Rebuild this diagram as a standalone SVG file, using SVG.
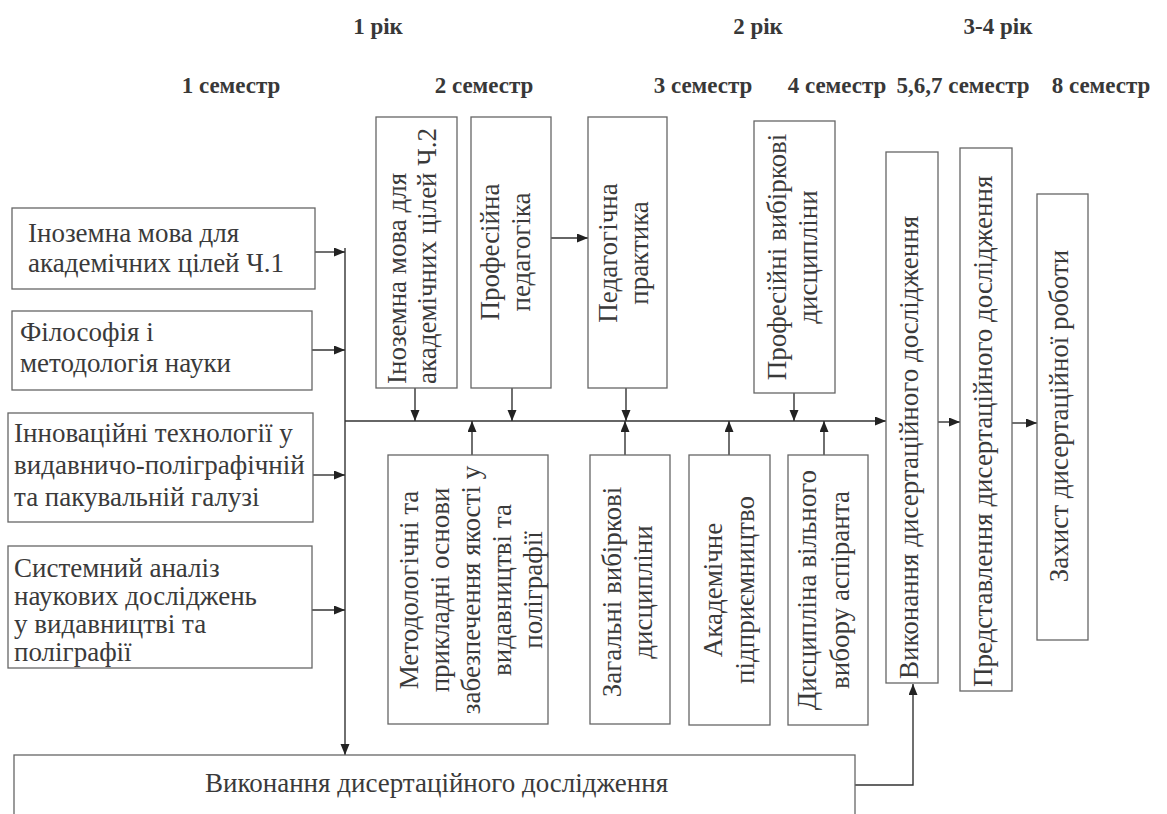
<svg xmlns="http://www.w3.org/2000/svg" width="1167" height="814" viewBox="0 0 1167 814">
<style>
.hd{font-family:"Liberation Serif","Times New Roman",serif;font-size:23px;font-weight:bold;fill:#383838;text-anchor:middle}
.t{font-family:"Liberation Serif","Times New Roman",serif;font-size:27px;fill:#3a3a3a}
.c{text-anchor:middle}
.box{fill:#fff;stroke:#666;stroke-width:1.3}
.ln{fill:none;stroke:#333;stroke-width:1.4}
</style>
<defs>
<marker id="ah" markerUnits="userSpaceOnUse" markerWidth="12" markerHeight="10" refX="11" refY="4.5" orient="auto">
<path d="M0,0 L11,4.5 L0,9 z" fill="#222"/>
</marker>
</defs>
<rect width="1167" height="814" fill="#fff"/>

<g id="headers">
<text class="hd" x="378" y="34">1 рік</text>
<text class="hd" x="758" y="34">2 рік</text>
<text class="hd" x="998" y="34">3-4 рік</text>
<text class="hd" x="231" y="93">1 семестр</text>
<text class="hd" x="484" y="93">2 семестр</text>
<text class="hd" x="703" y="93">3 семестр</text>
<text class="hd" x="837" y="93">4 семестр</text>
<text class="hd" x="963" y="93">5,6,7 семестр</text>
<text class="hd" x="1101" y="93">8 семестр</text>
</g>

<g id="connectors">
<line class="ln" x1="315" y1="252" x2="345" y2="252" marker-end="url(#ah)"/>
<line class="ln" x1="312" y1="350" x2="345" y2="350" marker-end="url(#ah)"/>
<line class="ln" x1="313" y1="475" x2="345" y2="475" marker-end="url(#ah)"/>
<line class="ln" x1="312" y1="610" x2="345" y2="610" marker-end="url(#ah)"/>
<line class="ln" x1="345" y1="248" x2="345" y2="755" marker-end="url(#ah)"/>
<line class="ln" x1="345" y1="421" x2="886" y2="421" marker-end="url(#ah)"/>
<line class="ln" x1="415" y1="388" x2="415" y2="421" marker-end="url(#ah)"/>
<line class="ln" x1="512" y1="388" x2="512" y2="421" marker-end="url(#ah)"/>
<line class="ln" x1="626" y1="388" x2="626" y2="421" marker-end="url(#ah)"/>
<line class="ln" x1="794" y1="393" x2="794" y2="421" marker-end="url(#ah)"/>
<line class="ln" x1="472" y1="455" x2="472" y2="421" marker-end="url(#ah)"/>
<line class="ln" x1="625" y1="455" x2="625" y2="421" marker-end="url(#ah)"/>
<line class="ln" x1="729" y1="455" x2="729" y2="421" marker-end="url(#ah)"/>
<line class="ln" x1="824" y1="455" x2="824" y2="421" marker-end="url(#ah)"/>
<line class="ln" x1="551" y1="238" x2="588" y2="238" marker-end="url(#ah)"/>
<line class="ln" x1="938" y1="422" x2="960" y2="422" marker-end="url(#ah)"/>
<line class="ln" x1="1012" y1="423" x2="1037" y2="423" marker-end="url(#ah)"/>
<polyline class="ln" points="855,785 913,785 913,684" marker-end="url(#ah)"/>
</g>

<g id="n-inozemna1">
<rect class="box" x="12" y="208" width="303" height="81"/>
<text class="t" x="28" y="242">Іноземна мова для</text>
<text class="t" x="28" y="272">академічних цілей Ч.1</text>
</g>
<g id="n-filosofia">
<rect class="box" x="12" y="311" width="300" height="79"/>
<text class="t" x="20" y="341">Філософія і</text>
<text class="t" x="20" y="372">методологія науки</text>
</g>
<g id="n-innovatsii">
<rect class="box" x="8" y="413" width="305" height="109"/>
<text class="t" x="14" y="442">Інноваційні технології у</text>
<text class="t" x="14" y="474">видавничо-поліграфічній</text>
<text class="t" x="14" y="506">та пакувальній галузі</text>
</g>
<g id="n-systemnyi">
<rect class="box" x="8" y="546" width="304" height="122"/>
<text class="t" x="14" y="577">Системний аналіз</text>
<text class="t" x="14" y="605">наукових досліджень</text>
<text class="t" x="14" y="633">у видавництві та</text>
<text class="t" x="14" y="661">поліграфії</text>
</g>

<g id="n-inozemna2">
<rect class="box" x="376" y="117" width="81" height="271"/>
<text class="t" transform="translate(406,384) rotate(-90)">Іноземна мова для</text>
<text class="t" transform="translate(436,384) rotate(-90)">академічних цілей Ч.2</text>
</g>
<g id="n-prof-ped">
<rect class="box" x="471" y="117" width="80" height="271"/>
<text class="t c" transform="translate(499,252) rotate(-90)">Професійна</text>
<text class="t c" transform="translate(530,252) rotate(-90)">педагогіка</text>
</g>
<g id="n-ped-prakt">
<rect class="box" x="588" y="117" width="79" height="271"/>
<text class="t c" transform="translate(617,253) rotate(-90)">Педагогічна</text>
<text class="t c" transform="translate(648,253) rotate(-90)">практика</text>
</g>
<g id="n-prof-vyb">
<rect class="box" x="754" y="121" width="81" height="272"/>
<text class="t c" transform="translate(786,257) rotate(-90)">Професійні вибіркові</text>
<text class="t c" transform="translate(817,257) rotate(-90)">дисципліни</text>
</g>

<g id="n-metod">
<rect class="box" x="388" y="455" width="160" height="269"/>
<text class="t c" transform="translate(418,590) rotate(-90)">Методологічні та</text>
<text class="t c" transform="translate(449,590) rotate(-90)">прикладні основи</text>
<text class="t c" transform="translate(480,590) rotate(-90)">забезпечення якості у</text>
<text class="t c" transform="translate(511,590) rotate(-90)">видавництві та</text>
<text class="t c" transform="translate(542,590) rotate(-90)">поліграфії</text>
</g>
<g id="n-zag-vyb">
<rect class="box" x="590" y="455" width="80" height="269"/>
<text class="t c" transform="translate(621,592) rotate(-90)">Загальні вибіркові</text>
<text class="t c" transform="translate(652,592) rotate(-90)">дисципліни</text>
</g>
<g id="n-akadem">
<rect class="box" x="689" y="455" width="81" height="270"/>
<text class="t c" transform="translate(722,590) rotate(-90)">Академічне</text>
<text class="t c" transform="translate(754,590) rotate(-90)">підприємництво</text>
</g>
<g id="n-dysc-vilnoho">
<rect class="box" x="788" y="455" width="80" height="270"/>
<text class="t c" transform="translate(816,590) rotate(-90)">Дисципліна вільного</text>
<text class="t c" transform="translate(849,590) rotate(-90)">вибору аспіранта</text>
</g>

<g id="n-vykonannia-v">
<rect class="box" x="886" y="152" width="52" height="531"/>
<text class="t" transform="translate(918,679) rotate(-90)">Виконання дисертаційного дослідження</text>
</g>
<g id="n-predstavlennia">
<rect class="box" x="960" y="148" width="52" height="543"/>
<text class="t" transform="translate(992,687) rotate(-90)">Представлення дисертаційного дослідження</text>
</g>
<g id="n-zakhyst">
<rect class="box" x="1037" y="194" width="51" height="446"/>
<text class="t c" transform="translate(1068,416) rotate(-90)">Захист дисертаційної роботи</text>
</g>

<g id="n-vykonannia-h">
<rect class="box" x="14" y="755" width="841" height="100"/>
<text class="t" x="205" y="792">Виконання дисертаційного дослідження</text>
</g>
</svg>
